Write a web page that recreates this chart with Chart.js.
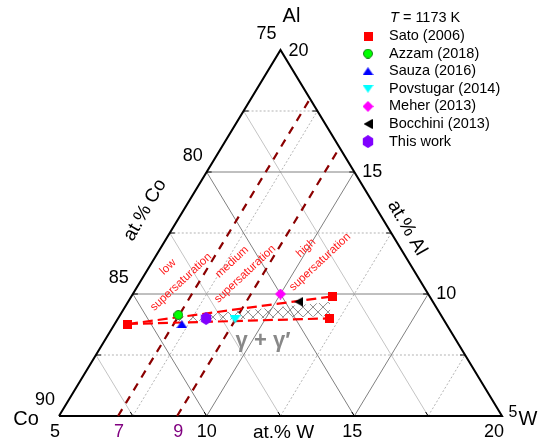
<!DOCTYPE html>
<html><head><meta charset="utf-8">
<script src="https://cdn.jsdelivr.net/npm/chart.js@4.4.1/dist/chart.umd.min.js"></script>
<style>html,body{margin:0;padding:0;background:#fff;overflow:hidden}canvas{display:block}</style>
</head><body>
<canvas id="c" width="542" height="444"></canvas>
<script>
// ---- data: ternary compositions in at.% W and at.% Al (Co = balance) ----
const seriesLabels = ['Sato (2006)','Azzam (2018)','Sauza (2016)','Povstugar (2014)','Meher (2013)','Bocchini (2013)','This work'];
const satoW = [5.45, 11.80, 12.15];
const satoAl = [8.77, 9.90, 9.00];
const azzamW = [6.97];     const azzamAl = [9.14];
const sauzaW = [7.28];     const sauzaAl = [8.76];
const povstugarW = [8.98]; const povstugarAl = [8.96];
const meherW = [10.0];     const meherAl = [10.0];
const bocchiniW = [10.78]; const bocchiniAl = [9.68];
const thisWorkW = [7.98];  const thisWorkAl = [9.00];
const twoPhaseW = [7.00, 11.84, 12.13, 7.09];
const twoPhaseAl = [9.06, 9.67, 9.10, 8.87];
const supersatW = [7, 9];
const wTickLabels = [5, 10, 15, 20];
const alTickLabels = [5, 10, 15, 20];
const coTickLabels = [75, 80, 85, 90];
const majorGrid = [10, 15];
const minorGrid = [7.5, 12.5, 17.5];
const coMajorGrid = [80, 85];
const coMinorGrid = [77.5, 82.5, 87.5];

const LO = 5, HI = 20, SPAN = HI - LO;
function tern(W, Al){ return {x: (W - LO) + (Al - LO) / 2, y: Al - LO}; }
function pts(Ws, Als){ return Ws.map((w, i) => tern(w, Als[i])); }

const FONT = '"Liberation Sans", Arial, sans-serif';

// marker images
function marker(shape, fill, w, h, stroke){
  const c = document.createElement('canvas');
  c.width = w; c.height = h;
  const g = c.getContext('2d');
  g.fillStyle = fill;
  g.beginPath();
  if (shape === 'square'){ g.rect(0, 0, w, h); }
  else if (shape === 'circle'){ g.arc(w/2, h/2, Math.min(w,h)/2 - 0.5, 0, Math.PI*2); }
  else if (shape === 'up'){ g.moveTo(w/2, 0); g.lineTo(w, h); g.lineTo(0, h); }
  else if (shape === 'down'){ g.moveTo(0, 0); g.lineTo(w, 0); g.lineTo(w/2, h); }
  else if (shape === 'left'){ g.moveTo(0, h/2); g.lineTo(w, 0); g.lineTo(w, h); }
  else if (shape === 'diamond'){ g.moveTo(w/2, 0); g.lineTo(w, h/2); g.lineTo(w/2, h); g.lineTo(0, h/2); }
  else if (shape === 'hex'){
    for (let i = 0; i < 6; i++){
      const a = Math.PI/2 + i*Math.PI/3;
      const x = w/2 + (w/2)*Math.cos(a), y = h/2 - (h/2)*Math.sin(a);
      i ? g.lineTo(x, y) : g.moveTo(x, y);
    }
  }
  g.closePath(); g.fill();
  if (stroke){ g.strokeStyle = stroke; g.lineWidth = 1; g.stroke(); }
  return c;
}
const markers = [
  marker('square', '#ff0000', 9, 9),
  marker('circle', '#00ff00', 10, 10, '#1a7a1a'),
  marker('up', '#0000ff', 11, 8),
  marker('down', '#00ffff', 11, 8),
  marker('diamond', '#ff00ff', 11, 11),
  marker('left', '#000000', 9, 10),
  marker('hex', '#8000ff', 12, 13)
];

const seriesData = [
  pts(satoW, satoAl), pts(azzamW, azzamAl), pts(sauzaW, sauzaAl),
  pts(povstugarW, povstugarAl), pts(meherW, meherAl), pts(bocchiniW, bocchiniAl),
  pts(thisWorkW, thisWorkAl)
];

// pixel layout of the triangle inside the 542x444 canvas
const PX_L = 59, PX_R = 502, PY_B = 416, PY_T = 50, CW = 542, CH = 444;
const xPer = (PX_R - PX_L) / SPAN, yPer = (PY_B - PY_T) / SPAN;

const datasets = [];
// triangle frame
datasets.push({
  data: [tern(LO, LO), tern(HI, LO), tern(LO, HI), tern(LO, LO)],
  showLine: true, borderColor: '#000', borderWidth: 2, pointRadius: 0, fill: false, order: 5
});
// supersaturation boundaries (constant W)
supersatW.forEach(w => datasets.push({
  data: [tern(w, LO), tern(w, HI - (w - LO))],
  showLine: true, borderColor: '#8b0000', borderWidth: 2.2, borderDash: [8, 7],
  pointRadius: 0, fill: false, order: 4
}));
// Sato tie lines
[1, 2].forEach(k => datasets.push({
  data: [tern(satoW[0], satoAl[0]), tern(satoW[k], satoAl[k])],
  showLine: true, borderColor: '#ff0000', borderWidth: 2.2, borderDash: [10, 5],
  pointRadius: 0, fill: false, order: 3
}));
// series points
seriesData.forEach((d, i) => datasets.push({
  label: seriesLabels[i], data: d, showLine: false,
  pointStyle: markers[i], pointRadius: 6, order: 1
}));

function P(chart, W, Al){
  const t = tern(W, Al);
  return [chart.scales.x.getPixelForValue(t.x), chart.scales.y.getPixelForValue(t.y)];
}
function seg(ctx, a, b){ ctx.beginPath(); ctx.moveTo(a[0], a[1]); ctx.lineTo(b[0], b[1]); ctx.stroke(); }

const gridPlugin = {
  id: 'ternGrid',
  beforeDatasetsDraw(chart){
    const ctx = chart.ctx;
    ctx.save();
    const draw = (vals, coVals, major) => {
      vals.forEach(v => {
        ctx.strokeStyle = major ? '#808080' : '#b4b4b4';
        ctx.lineWidth = 1;
        ctx.setLineDash(major ? [] : [2, 2]);
        seg(ctx, P(chart, v, LO), P(chart, v, HI + LO - v));
        seg(ctx, P(chart, LO, v), P(chart, HI + LO - v, v));
      });
      coVals.forEach(c => {
        const s = 100 - c;
        ctx.strokeStyle = major ? '#808080' : '#c4c4c4';
        ctx.setLineDash([]);
        seg(ctx, P(chart, s - LO, LO), P(chart, LO, s - LO));
      });
    };
    draw(minorGrid, coMinorGrid, false);
    draw(majorGrid, coMajorGrid, true);
    // edge ticks
    ctx.setLineDash([]);
    ctx.strokeStyle = '#000'; ctx.lineWidth = 1;
    majorGrid.concat(minorGrid).forEach(v => {
      const l = P(chart, LO, v); seg(ctx, l, [l[0] + 5, l[1]]);
      const r = P(chart, HI + LO - v, v); seg(ctx, r, [r[0] - 5, r[1]]);
      const b = P(chart, v, LO); seg(ctx, b, [b[0] - 2.5, b[1] - 4]);
    });
    // two-phase (gamma + gamma') hatched band
    ctx.beginPath();
    twoPhaseW.forEach((w, i) => {
      const p = P(chart, w, twoPhaseAl[i]);
      i ? ctx.lineTo(p[0], p[1]) : ctx.moveTo(p[0], p[1]);
    });
    ctx.closePath();
    ctx.strokeStyle = '#8c8c8c'; ctx.lineWidth = 1;
    ctx.save();
    ctx.clip();
    const x0 = P(chart, twoPhaseW[0], twoPhaseAl[0])[0] - 30;
    const x1 = P(chart, twoPhaseW[2], twoPhaseAl[2])[0] + 30;
    const yc = P(chart, twoPhaseW[1], twoPhaseAl[1])[1];
    for (let x = x0; x < x1; x += 10){
      seg(ctx, [x, yc - 30], [x + 60, yc + 30]);
      seg(ctx, [x, yc + 30], [x + 60, yc - 30]);
    }
    ctx.restore();
    ctx.restore();
  },
  afterDraw(chart){
    const ctx = chart.ctx;
    ctx.save();
    ctx.textAlign = 'center'; ctx.textBaseline = 'middle';
    const txt = (s, x, y, size, color, rot, style) => {
      ctx.save();
      ctx.translate(x, y); if (rot) ctx.rotate(rot);
      ctx.font = (style || '') + ' ' + size + 'px ' + FONT;
      ctx.fillStyle = color || '#000';
      ctx.fillText(s, 0, 0);
      ctx.restore();
    };
    // Co ticks (left edge)
    coTickLabels.forEach(c => { const p = P(chart, LO, 100 - c - LO); txt(String(c), p[0] - 14, p[1] - 16, 18); });
    // Al ticks (right edge)
    alTickLabels.forEach(a => {
      const p = P(chart, HI + LO - a, a);
      if (a === LO) txt(String(a), p[0] + 11, p[1] - 3, 16);
      else txt(String(a), p[0] + 18, p[1] + (a === HI ? 1 : 0), 18);
    });
    // W ticks (bottom)
    const wOff = {5: -4, 10: 0, 15: -2, 20: -8};
    wTickLabels.forEach(w => { const p = P(chart, w, LO); txt(String(w), p[0] + wOff[w], p[1] + 16, 18); });
    supersatW.forEach(w => { const p = P(chart, w, LO); txt(String(w), p[0] + 1, p[1] + 16, 18, '#800080'); });
    // vertex and axis titles
    const co = P(chart, LO, LO), wv = P(chart, HI, LO), al = P(chart, LO, HI);
    txt('Co', co[0] - 33, co[1] + 3, 20);
    txt('W', wv[0] + 26, wv[1] + 3, 20);
    txt('Al', al[0] + 11, al[1] - 34, 20);
    txt('at.% W', (co[0] + wv[0]) / 2 + 3, co[1] + 17, 19);
    txt('at.% Co', 145, 210, 19, '#000', -Math.PI / 3);
    txt('at.% Al', 407, 228, 19, '#000', Math.PI / 3);
    // annotations
    const rot = -43 * Math.PI / 180;
    txt('low', 168, 267, 11.5, '#ff1a1a', rot);
    txt('supersaturation', 181, 282, 11.5, '#ff1a1a', rot);
    txt('medium', 232, 262, 11.5, '#ff1a1a', rot);
    txt('supersaturation', 245, 274, 11.5, '#ff1a1a', rot);
    txt('high', 306, 248, 11.5, '#ff1a1a', rot);
    txt('supersaturation', 320, 262, 11.5, '#ff1a1a', rot);
    txt('\u03B3 + \u03B3\u2032', 263, 341, 22, '#888888', 0, 'bold');
    // legend
    ctx.textAlign = 'left';
    ctx.font = 'italic 14.5px ' + FONT; ctx.fillStyle = '#000';
    ctx.fillText('T', 390, 18);
    const tw = ctx.measureText('T').width;
    ctx.font = '14.5px ' + FONT;
    ctx.fillText(' = 1173 K', 390 + tw, 18);
    seriesLabels.forEach((s, i) => {
      const y = 36 + i * 17.6;
      const m = markers[i];
      ctx.drawImage(m, 368 - m.width / 2, y - m.height / 2);
      ctx.fillText(s, 389, y);
    });
    ctx.restore();
  }
};

new Chart(document.getElementById('c'), {
  type: 'scatter',
  data: { datasets },
  options: {
    responsive: false, animation: false, devicePixelRatio: 1,
    layout: { padding: 0, autoPadding: false },
    plugins: { legend: { display: false }, tooltip: { enabled: false } },
    scales: {
      x: { type: 'linear', display: false, min: -PX_L / xPer, max: (CW - PX_L) / xPer },
      y: { type: 'linear', display: false, min: -(CH - PY_B) / yPer, max: PY_B / yPer }
    }
  },
  plugins: [gridPlugin]
});
</script>
</body></html>
